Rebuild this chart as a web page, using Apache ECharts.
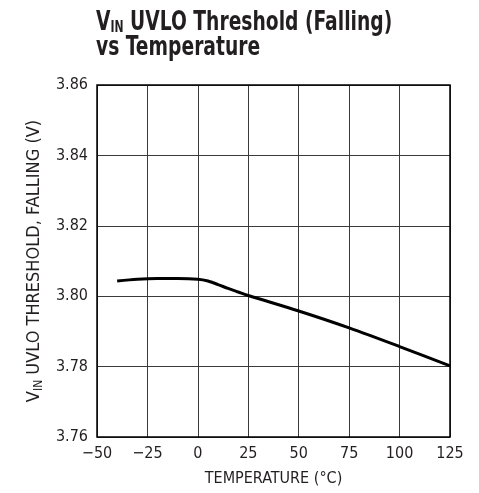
<!DOCTYPE html>
<html>
<head>
<meta charset="utf-8">
<script src="https://cdn.jsdelivr.net/npm/echarts@6/dist/echarts.min.js"></script>
<style>
  html, body { margin: 0; padding: 0; background: #fff; }
  #chart { width: 479px; height: 493px; }
</style>
</head>
<body>
<div id="chart"></div>
<script>
// temperature (°C) and falling UVLO threshold (V)
const temps = [-40, -30, -20, -10, 0, 5, 10, 15, 20, 25, 50, 75, 100, 125]
const threshold = [3.8043, 3.8048, 3.8050, 3.8050, 3.8048, 3.8043, 3.8033, 3.8022, 3.8012, 3.8002, 3.7958, 3.7910, 3.7857, 3.7802]
const xTicks = [-50, -25, 0, 25, 50, 75, 100, 125]
const yTicks = [3.76, 3.78, 3.80, 3.82, 3.84, 3.86]

const FONT = '"DejaVu Sans Condensed", "Liberation Sans", sans-serif'
const INK = '#231f20'

const chart = echarts.init(document.getElementById('chart'))
chart.setOption({
  animation: false,
  // title drawn as graphic text so it can be squeezed to a condensed width
  graphic: [{
    type: 'text', x: 96, y: 10, scaleX: 0.8, silent: true,
    style: {
      text: '{b|V}{s|IN}{b| UVLO Threshold (Falling)}\n{b|vs Temperature}',
      rich: {
        b: { fontFamily: FONT, fontWeight: 'bold', fontSize: 26, fill: INK, lineHeight: 25 },
        s: { fontFamily: FONT, fontWeight: 'bold', fontSize: 15, fill: INK, verticalAlign: 'bottom', padding: [11, 0, 0, 0] }
      }
    }
  }],
  grid: { left: 97, top: 85, right: 29, bottom: 56 },
  xAxis: {
    type: 'value', min: -50, max: 125, interval: 25,
    name: 'TEMPERATURE (°C)', nameLocation: 'middle', nameGap: 34,
    nameTextStyle: { fontFamily: FONT, fontSize: 16, color: INK },
    axisLine: { show: false }, axisTick: { show: false },
    axisLabel: {
      margin: 9, fontFamily: FONT, fontSize: 16, color: INK,
      formatter: v => xTicks.includes(v) ? String(v).replace('-', '\u2212') : ''
    },
    splitLine: { lineStyle: { color: '#3a3a3a', width: 1 } }
  },
  yAxis: {
    type: 'value', min: 3.76, max: 3.86, interval: 0.02,
    name: '{n|V}{s|IN}{n| UVLO THRESHOLD, FALLING (V)}', nameLocation: 'middle', nameGap: 46, nameRotate: 90,
    nameTextStyle: {
      rich: {
        n: { fontFamily: FONT, fontSize: 18, color: INK },
        s: { fontFamily: FONT, fontSize: 12, color: INK, verticalAlign: 'bottom', padding: [9, 0, 0, 0] }
      }
    },
    axisLine: { show: false }, axisTick: { show: false },
    axisLabel: {
      margin: 9, fontFamily: FONT, fontSize: 16, color: INK,
      formatter: v => {
        const t = yTicks.find(y => Math.abs(y - v) < 1e-6)
        return t !== undefined ? t.toFixed(2) : ''
      }
    },
    splitLine: { lineStyle: { color: '#3a3a3a', width: 1 } }
  },
  series: [{
    type: 'line',
    data: temps.map((t, i) => [t, threshold[i]]),
    smooth: 0.3, showSymbol: false,
    lineStyle: { color: '#000', width: 3 }
  }]
})
// frame around the plot area
const rect = chart.getModel().getComponent('grid').coordinateSystem.getRect()
chart.setOption({
  graphic: [{}, {
    type: 'rect', shape: { x: rect.x, y: rect.y, width: rect.width, height: rect.height },
    style: { fill: 'none', stroke: '#000', lineWidth: 1.5 }, silent: true, z: 10
  }]
})
window.addEventListener('resize', () => chart.resize())
</script>
</body>
</html>
